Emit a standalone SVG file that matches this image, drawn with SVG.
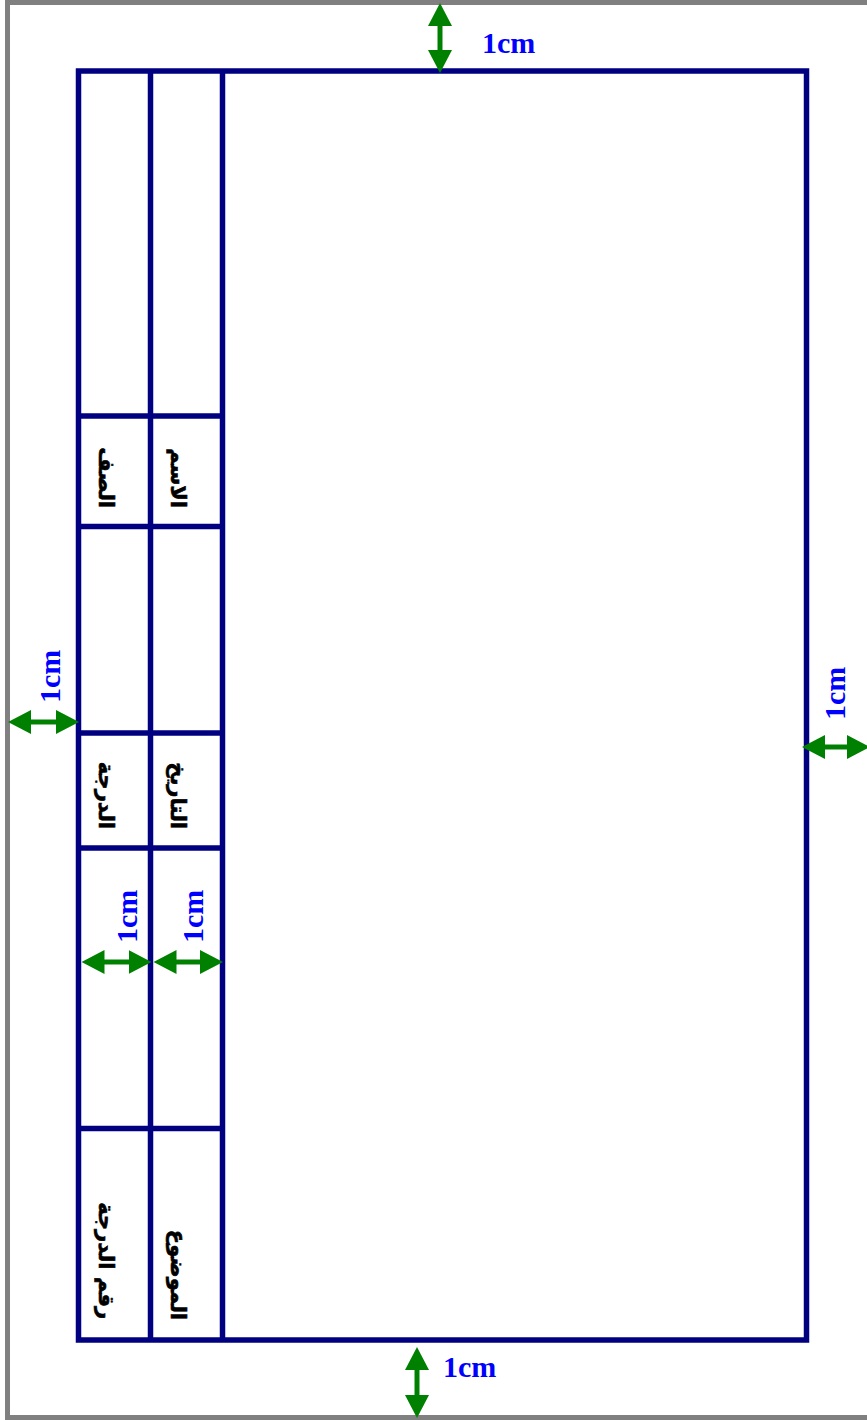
<svg xmlns="http://www.w3.org/2000/svg" width="867" height="1420" viewBox="0 0 867 1420">
<defs>
<marker id="ah" viewBox="0 0 23 24" refX="1" refY="12" markerWidth="23" markerHeight="24" markerUnits="userSpaceOnUse" orient="auto-start-reverse"><path d="M0,0 L23,12 L0,24 z" fill="#008000"/></marker>
</defs>
<style>
.page{fill:none;stroke:#808080;stroke-width:5}
.frame{fill:none;stroke:#000080;stroke-width:5.5}
.grid{stroke:#000080;stroke-width:5.5;fill:none}
.dim{stroke:#008000;stroke-width:5;fill:none;marker-start:url(#ah);marker-end:url(#ah)}
.cm{font-family:"Liberation Serif","Times New Roman",serif;font-weight:bold;font-size:30px;fill:#0000ff}
.lbl{font-family:"DejaVu Sans",sans-serif;font-weight:bold;font-size:21px;fill:#000000;stroke:#000000;stroke-width:0.6;text-anchor:end}
</style>
<rect x="0" y="0" width="867" height="1420" fill="#ffffff"/>
<g id="page">
<rect class="page" x="7.5" y="2.5" width="872" height="1415"/>
</g>
<g id="frame">
<rect class="frame" x="78.5" y="71" width="728" height="1269"/>
<path class="grid" d="M150.5,71V1340M222.5,71V1340M78.5,416H222.5M78.5,526.5H222.5M78.5,733H222.5M78.5,848H222.5M78.5,1128.5H222.5"/>
</g>
<g id="labels">
<g id="cell-class"><text class="lbl" x="99" y="508" transform="rotate(90 99 508)">الصف</text></g>
<g id="cell-name"><text class="lbl" x="171" y="508" transform="rotate(90 171 508)">الاسم</text></g>
<g id="cell-grade"><text class="lbl" x="99" y="829" transform="rotate(90 99 829)">الدرجة</text></g>
<g id="cell-date"><text class="lbl" x="171" y="829" transform="rotate(90 171 829)">التاريخ</text></g>
<g id="cell-gradenum"><text class="lbl" x="99" y="1319" transform="rotate(90 99 1319)">رقم الدرجة</text></g>
<g id="cell-subject"><text class="lbl" x="171" y="1320" transform="rotate(90 171 1320)">الموضوع</text></g>
</g>
<g id="connectors">
<line class="dim" x1="440" y1="25" x2="440" y2="51"/>
<line class="dim" x1="417" y1="1369" x2="417" y2="1396"/>
<line class="dim" x1="30" y1="722" x2="57" y2="722"/>
<line class="dim" x1="824" y1="747" x2="848" y2="747"/>
<line class="dim" x1="103.5" y1="962" x2="129.5" y2="962"/>
<line class="dim" x1="175.5" y1="962" x2="201" y2="962"/>
</g>
<g id="dimension-labels">
<text class="cm" x="482" y="53">1cm</text>
<text class="cm" x="443" y="1377">1cm</text>
<text class="cm" x="60" y="703" transform="rotate(-90 60 703)">1cm</text>
<text class="cm" x="845" y="720" transform="rotate(-90 845 720)">1cm</text>
<text class="cm" x="137" y="943" transform="rotate(-90 137 943)">1cm</text>
<text class="cm" x="203" y="943" transform="rotate(-90 203 943)">1cm</text>
</g>
</svg>
